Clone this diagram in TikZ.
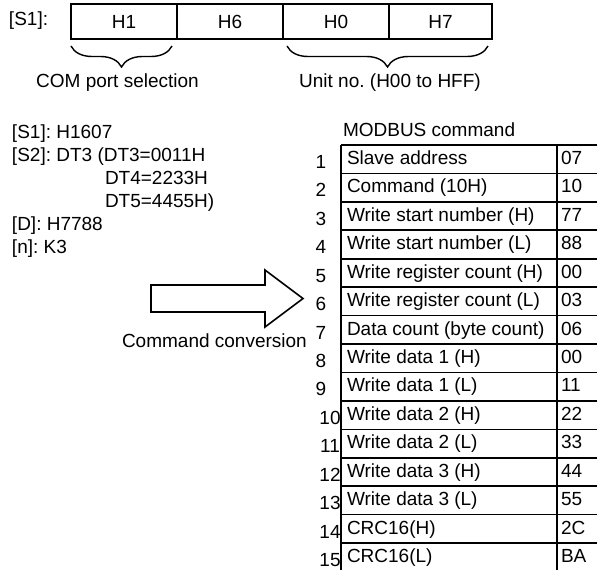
\documentclass[tikz,border=0pt]{standalone}
\usepackage{fontspec}
\setmainfont{Liberation Sans}
\usetikzlibrary{decorations.pathreplacing}
\frenchspacing
\begin{document}
\begin{tikzpicture}[x=1pt,y=-1pt,
  every node/.style={inner sep=0pt,outer sep=0pt,font=\fontsize{19}{22}\selectfont\frenchspacing},
  txt/.style={anchor=base west},
  ctxt/.style={anchor=base},
  frame/.style={draw=black,line width=1.6pt},
  bracedeco/.style={draw=black,line width=1.4pt,decorate,decoration={brace,amplitude=21pt}},
  rownum/.style={anchor=base}]
\useasboundingbox (0,0) rectangle (597,570);
\clip (0,0) rectangle (597,570);
% top register box
\node[txt] (s1lbl) at (9,25) {[S1]:};
\draw[frame] (71,4) rectangle (492,39);
\foreach \x in {177,283,389} \draw[frame] (\x,4) -- (\x,39);
\node[ctxt] (h1) at (124,28.5) {H1};
\node[ctxt] (h6) at (230,28.5) {H6};
\node[ctxt] (h0) at (336,28.5) {H0};
\node[ctxt] (h7) at (440.5,28.5) {H7};
\coordinate (b1a) at (172,46); \coordinate (b1b) at (71,46);
\coordinate (b2a) at (488,46); \coordinate (b2b) at (287,46);
\draw[bracedeco] (b1a) -- (b1b);
\draw[bracedeco] (b2a) -- (b2b);
\node[ctxt] (com) at (117.5,87) {COM port selection};
\node[ctxt] (unit) at (390,87) {Unit no. (H00 to HFF)};
% left text
\node[txt] (l1) at (12,138) {[S1]: H1607};
\node[txt] (l2) at (12,161) {[S2]: DT3 (DT3=0011H};
\node[txt] (l3) at (105,184) {DT4=2233H};
\node[txt] (l4) at (105,207) {DT5=4455H)};
\node[txt] (l5) at (12,230) {[D]: H7788};
\node[txt] (l6) at (12,253) {[n]: K3};
% block arrow
\draw[line width=1.6pt,line join=miter] (151,285) -- (265,285) -- (265,270) -- (303,298.5) -- (265,327) -- (265,312) -- (151,312) -- cycle;
\node[txt] (conv) at (122,347) {Command conversion};
% table
\node[txt] (mb) at (343,136) {MODBUS command};
\def\rowh{28.43}
\draw[frame] (341,145) -- (341,572);
\draw[frame] (557,145) -- (557,572);
\foreach \i in {0,...,15} \draw[frame] (341,145+\i*\rowh) -- (600,145+\i*\rowh);
\foreach \i/\t/\v in {1/Slave address/07,2/Command (10H)/10,3/Write start number (H)/77,4/Write start number (L)/88,5/Write register count (H)/00,6/Write register count (L)/03,7/Data count (byte count)/06,8/Write data 1 (H)/00,9/Write data 1 (L)/11,10/Write data 2 (H)/22,11/Write data 2 (L)/33,12/Write data 3 (H)/44,13/Write data 3 (L)/55,14/CRC16(H)/2C,15/CRC16(L)/BA}{
  \pgfmathsetmacro{\yb}{145+(\i-1)*\rowh+19.5}
  \pgfmathsetmacro{\yn}{145+(\i-1)*\rowh+23.5}
  \pgfmathsetmacro{\xn}{\i<10 ? 321 : 330}
  \node[txt] (r\i) at (347,\yb) {\t};
  \node[txt] (v\i) at (561,\yb) {\v};
  \node[rownum] (n\i) at (\xn,\yn) {\i};
}
\end{tikzpicture}
\end{document}
